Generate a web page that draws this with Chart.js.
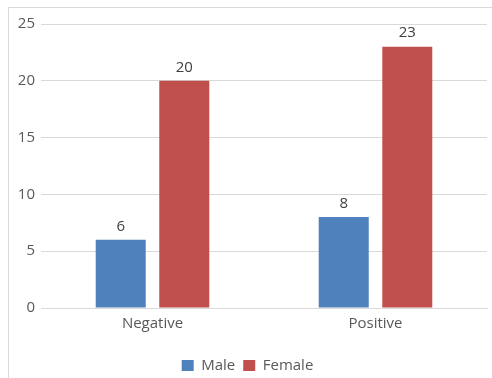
<!DOCTYPE html>
<html>
<head>
<meta charset="utf-8">
<script src="https://cdn.jsdelivr.net/npm/chart.js@4"></script>
<style>
  html, body { margin: 0; padding: 0; background: #fff; }
  #wrap { position: relative; width: 492px; height: 378px; overflow: hidden; }
  #frame { position: absolute; left: 8px; top: 7px; width: 520px; height: 420px; border: 1px solid #d9d9d9; }
  canvas { position: absolute; left: 0; top: 0; }
</style>
</head>
<body>
<div id="wrap">
  <div id="frame"></div>
  <canvas id="chart" width="492" height="378"></canvas>
</div>
<script>
// Data
const categories = ['Negative', 'Positive'];
const maleValues = [6, 8];
const femaleValues = [20, 23];
const yTicks = [0, 5, 10, 15, 20, 25];

const colors = {
    male: '#4F81BD',
    female: '#C0504D',
    grid: '#d9d9d9',
    tick: '#595959',
    label: '#404040'
};

Chart.defaults.font.family = "'Open Sans', 'Liberation Sans', sans-serif";
Chart.defaults.font.size = 15;

// Value labels above each bar
const barLabels = {
    id: 'barLabels',
    afterDatasetsDraw(chart) {
        const ctx = chart.ctx;
        ctx.save();
        ctx.font = "15px 'Open Sans', 'Liberation Sans', sans-serif";
        ctx.fillStyle = colors.label;
        ctx.textAlign = 'center';
        ctx.textBaseline = 'bottom';
        chart.data.datasets.forEach((ds, i) => {
            chart.getDatasetMeta(i).data.forEach((bar, j) => {
                ctx.fillText(ds.data[j], bar.x, bar.y - 6);
            });
        });
        ctx.restore();
    }
};

new Chart(document.getElementById('chart'), {
    type: 'bar',
    data: {
        labels: categories,
        datasets: [
            {
                label: 'Male',
                data: maleValues,
                backgroundColor: colors.male,
                categoryPercentage: 0.57,
                barPercentage: 0.787
            },
            {
                label: 'Female',
                data: femaleValues,
                backgroundColor: colors.female,
                categoryPercentage: 0.57,
                barPercentage: 0.787
            }
        ]
    },
    options: {
        responsive: false,
        animation: false,
        layout: { padding: { left: 8, right: 5, top: 24, bottom: -5 } },
        plugins: {
            tooltip: { enabled: false },
            legend: {
                position: 'bottom',
                labels: {
                    boxWidth: 12,
                    boxHeight: 11,
                    padding: 8,
                    color: colors.tick,
                    font: { size: 15 }
                }
            }
        },
        scales: {
            x: {
                grid: { display: false, drawTicks: false },
                border: { color: colors.grid },
                ticks: { color: colors.tick, padding: 7 },
                afterFit: scale => { scale.height = 42; }
            },
            y: {
                min: 0,
                max: 25,
                afterBuildTicks: scale => { scale.ticks = yTicks.map(v => ({ value: v })); },
                grid: { color: colors.grid, drawTicks: false },
                border: { display: false },
                ticks: { color: colors.tick, padding: 6 },
                afterFit: scale => { scale.width = 33; }
            }
        }
    },
    plugins: [barLabels]
});
</script>
</body>
</html>
